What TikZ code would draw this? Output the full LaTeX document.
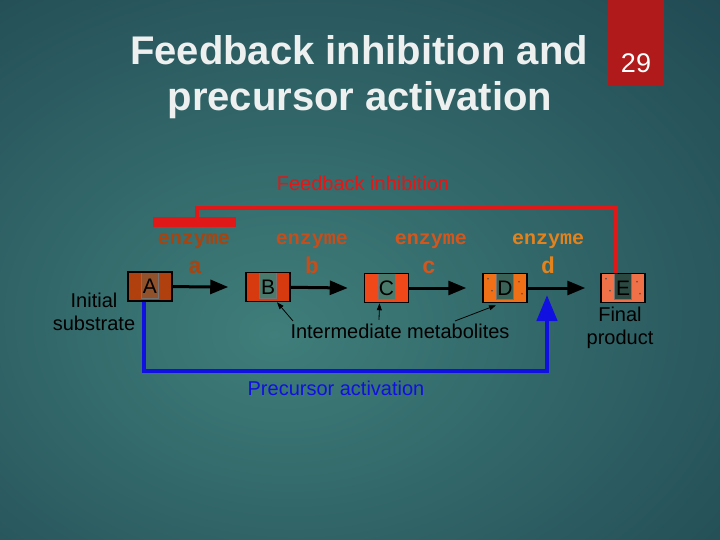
\documentclass[tikz,border=0pt]{standalone}
\usepackage{fontspec}
\setmainfont{Liberation Sans}
\newfontfamily\enzfont{Liberation Mono}
\usetikzlibrary{arrows.meta}

\definecolor{bginner}{HTML}{3F7E7A}
\definecolor{bgouter}{HTML}{163645}
\definecolor{slidered}{HTML}{B01A1A}
\definecolor{titlegray}{HTML}{EEF0F0}
\definecolor{fbred}{HTML}{E01818}
\definecolor{pablue}{HTML}{1010E0}
\definecolor{stripteal}{HTML}{497A6C}
\definecolor{colA}{HTML}{B0400E}
\definecolor{colB}{HTML}{D83A10}
\definecolor{colC}{HTML}{F04818}
\definecolor{colD}{HTML}{F07018}
\definecolor{colE}{HTML}{F07048}
\definecolor{enzA}{HTML}{A84410}
\definecolor{enzB}{HTML}{C44E1C}
\definecolor{enzC}{HTML}{D4561C}
\definecolor{enzD}{HTML}{E4821C}

\pgfdeclareradialshading{slidebg}{\pgfpoint{-6bp}{-6bp}}{color(0bp)=(bginner); color(55bp)=(bgouter); color(80bp)=(bgouter)}

\tikzset{
  title/.style={text=titlegray, font=\fontsize{40}{44}\selectfont\bfseries, anchor=base},
  mbox/.style 2 args={draw=black, line width=1.5pt, fill=#1, minimum width=44pt, minimum height=29pt,
    inner sep=0pt, font=\fontsize{21}{21}\selectfont,
    path picture={\fill[#2, draw=black!55, line width=0.6pt]
      ([xshift=-8.5pt]path picture bounding box.north) rectangle
      ([xshift=8.5pt,yshift=3pt]path picture bounding box.south);}},
  enz/.style={font=\enzfont\bfseries\fontsize{20}{20}\selectfont, anchor=base},
  enzl/.style={font=\enzfont\bfseries\fontsize{23}{23}\selectfont, anchor=base},
  lbl/.style={font=\fontsize{20}{23}\selectfont, align=center},
  step arrow/.style={line width=3pt, -{Triangle[length=18pt,width=14pt]}},
  pointer/.style={line width=0.8pt, -{Triangle[length=7pt,width=5pt]}},
  fbline/.style={fbred, line width=4pt},
  paline/.style={pablue, line width=4.5pt, -{Triangle[length=26pt,width=20pt]}},
  dots/.style={fill=black!70}
}

\begin{document}
\begin{tikzpicture}[x=1pt,y=-1pt]
\useasboundingbox (0,0) rectangle (720,540);
\shade[shading=slidebg] (0,0) rectangle (720,540);

% title and page number
\fill[slidered] (608,0) rectangle (664,86);
\node[font=\fontsize{27}{27}\selectfont, text=white, anchor=base] (pgno) at (636,73) {29};
\node[title] (t1) at (359,65) {Feedback inhibition and};
\node[title] (t2) at (360,111) {precursor activation};

% metabolites
\node[mbox={colA}{colA!70!stripteal}] (A) at (150,286.5) {A};
\node[mbox={colB}{stripteal}] (B) at (268,287) {B};
\node[mbox={colC}{stripteal}] (C) at (386.5,288) {C};
\node[mbox={colD}{stripteal!80!black}] (D) at (505,288) {D};
\node[mbox={colE}{stripteal!60!black}] (E) at (623,288) {E};
\foreach \n in {D,E} {
  \fill[dots] ([xshift=-17pt,yshift=-6pt]\n.north) circle (0.8pt);
  \fill[dots] ([xshift=-13pt,yshift=-18pt]\n.north) circle (0.8pt);
  \fill[dots] ([xshift=14pt,yshift=-9pt]\n.north) circle (0.8pt);
  \fill[dots] ([xshift=17pt,yshift=-21pt]\n.north) circle (0.8pt);
}

% enzymes
\node[enz, text=enzA] (enza) at (194,244) {enzyme};
\node[enzl, text=enzA] (la) at (195,273) {a};
\node[enz, text=enzB] (enzb) at (312,244) {enzyme};
\node[enzl, text=enzB] (lb) at (312,273) {b};
\node[enz, text=enzC] (enzc) at (431,244) {enzyme};
\node[enzl, text=enzC] (lc) at (429,273) {c};
\node[enz, text=enzD] (enzd) at (548,244) {enzyme};
\node[enzl, text=enzD] (ld) at (548,273) {d};

\draw[step arrow] (A) -- ([xshift=-17pt]B.west);
\draw[step arrow] (B) -- ([xshift=-16pt]C.west);
\draw[step arrow] (C) -- ([xshift=-16pt]D.west);
\draw[step arrow] (D) -- ([xshift=-15pt]E.west);

% labels
\node[lbl] (init) at (94,312) {Initial\\substrate};
\node[lbl] (final) at (620,328) {Final\\product};
\node[lbl, anchor=base] (im) at (400,338) {Intermediate metabolites};
\draw[pointer] ([xshift=-107pt,yshift=-1pt]im.north) -- ([xshift=9pt]B.south);
\draw[pointer] ([xshift=-21pt]im.north) -- ([xshift=-7pt]C.south);
\draw[pointer] ([xshift=55pt,yshift=-1pt]im.north) -- ([xshift=-9pt,yshift=-2pt]D.south);

% feedback inhibition
\node[fill=fbred, minimum width=83pt, minimum height=10pt, inner sep=0pt] (bar) at (194.5,222) {};
\draw[fbline] ([xshift=-7pt]E.north) -- ++(0,-65) -| ([xshift=2pt]bar.north);
\node[lbl, text=fbred, anchor=base] (fbtext) at (363,191) {Feedback inhibition};

% precursor activation
\coordinate (patip) at (547,295);
\draw[paline] ([xshift=-6pt]A.south) -- ++(0,69) -| (patip);
\node[lbl, text=pablue, anchor=base] (patext) at (336,395) {Precursor activation};
\end{tikzpicture}
\end{document}
